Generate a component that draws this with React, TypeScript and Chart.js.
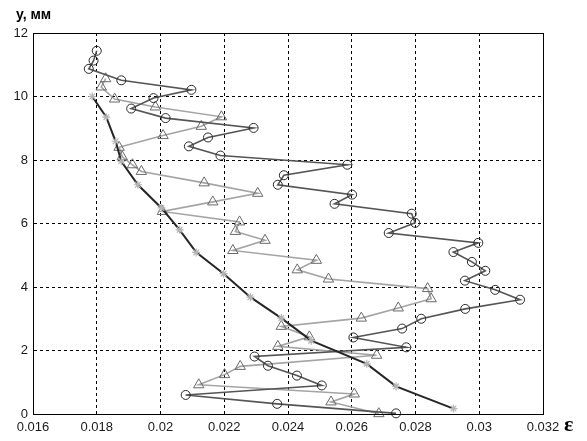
import React, { useEffect, useRef } from "react";
import { Chart, registerables } from "chart.js";

Chart.register(...registerables);

const yTitle = "у, мм";
const xTitle = "ε";

const xTicks = [0.016, 0.018, 0.02, 0.022, 0.024, 0.026, 0.028, 0.03, 0.032];
const xTickLabels = ["0.016", "0.018", "0.02", "0.022", "0.024", "0.026", "0.028", "0.03", "0.032"];
const yTicks = [0, 2, 4, 6, 8, 10, 12];
const yTickLabels = ["0", "2", "4", "6", "8", "10", "12"];

const circleX = [
  0.018, 0.0179, 0.01775, 0.01877, 0.02097, 0.01978, 0.01908, 0.02016, 0.02292, 0.02149,
  0.02089, 0.02188, 0.02586, 0.02387, 0.02368, 0.02601, 0.02546, 0.02788, 0.02799, 0.02716,
  0.02997, 0.02919, 0.02977, 0.03019, 0.02955, 0.0305, 0.03128, 0.02956, 0.02818, 0.02758,
  0.02605, 0.02771, 0.02295, 0.02337, 0.02428, 0.02506, 0.02079, 0.02366, 0.02739,
];
const circleY = [
  11.44, 11.13, 10.87, 10.51, 10.21, 9.95, 9.62, 9.32, 9.01, 8.71,
  8.43, 8.14, 7.85, 7.52, 7.22, 6.91, 6.62, 6.31, 6.02, 5.7,
  5.39, 5.1, 4.79, 4.51, 4.2, 3.91, 3.6, 3.31, 3.0, 2.69,
  2.41, 2.1, 1.81, 1.52, 1.21, 0.9, 0.6, 0.32, 0.02,
];

const triX = [
  0.01828, 0.01814, 0.01856, 0.01984, 0.02191, 0.02128, 0.02008, 0.0187, 0.0188, 0.01912,
  0.0194, 0.02137, 0.02305, 0.02164, 0.02006, 0.02248, 0.02235, 0.02328, 0.02227, 0.02489,
  0.02429, 0.02527, 0.02838, 0.02849, 0.02746, 0.0263, 0.02379, 0.02467, 0.02368, 0.02678,
  0.0225, 0.02201, 0.0212, 0.02608, 0.02535, 0.02685,
];
const triY = [
  10.56, 10.3, 9.92, 9.67, 9.36, 9.06, 8.77, 8.4, 8.1, 7.85,
  7.64, 7.28, 6.95, 6.68, 6.38, 6.05, 5.75, 5.47, 5.15, 4.84,
  4.54, 4.25, 3.95, 3.63, 3.34, 3.02, 2.76, 2.43, 2.13, 1.85,
  1.5, 1.24, 0.92, 0.63, 0.38, 0.01,
];

const starX = [
  0.01786, 0.0183, 0.01859, 0.01877, 0.01929, 0.02003, 0.0206, 0.02112, 0.02198, 0.02282,
  0.02379, 0.02473, 0.02647, 0.02739, 0.02919,
];
const starY = [
  10.0, 9.35, 8.59, 7.96, 7.22, 6.49, 5.8, 5.09, 4.42, 3.68,
  3.02, 2.31, 1.58, 0.87, 0.17,
];

export default function App() {
  const ref = useRef<HTMLCanvasElement>(null);

  useEffect(() => {
    if (!ref.current) return;
    const toPts = (xs: number[], ys: number[]) => xs.map((x, i) => ({ x, y: ys[i] }));

    const framePlugin = {
      id: "frame",
      afterDraw(chart: any) {
        const { ctx, chartArea: a } = chart;
        ctx.save();
        ctx.setLineDash([]);
        ctx.strokeStyle = "#000";
        ctx.lineWidth = 1;
        const l = Math.round(a.left) + 0.5;
        const t = Math.round(a.top) + 0.5;
        const r = Math.round(a.right) + 0.5;
        const b = Math.round(a.bottom) + 0.5;
        ctx.strokeRect(l, t, r - l, b - t);
        ctx.fillStyle = "#000";
        ctx.textAlign = "left";
        ctx.textBaseline = "middle";
        ctx.font = 'bold 14px "Liberation Sans", Arial, sans-serif';
        ctx.fillText(yTitle, 16, 15);
        ctx.font = 'bold 22px "Liberation Serif", "DejaVu Serif", serif';
        ctx.fillText(xTitle, 564, 425);
        ctx.restore();
      },
    };

    const tickFont = { family: '"Liberation Sans", Arial, sans-serif', size: 13 };

    const chart = new Chart(ref.current, {
      type: "scatter",
      data: {
        datasets: [
          {
            label: "stars",
            data: toPts(starX, starY),
            showLine: true,
            borderColor: "#262626",
            borderWidth: 2,
            pointStyle: "star",
            pointRadius: 4,
            pointBorderColor: "#b4b4b4",
            pointBorderWidth: 1.2,
            pointBackgroundColor: "rgba(0,0,0,0)",
            tension: 0,
            clip: false as any,
          },
          {
            label: "circles",
            data: toPts(circleX, circleY),
            showLine: true,
            borderColor: "#555555",
            borderWidth: 1.6,
            pointStyle: "circle",
            pointRadius: 4.5,
            pointBorderColor: "#2a2a2a",
            pointBorderWidth: 1,
            pointBackgroundColor: "rgba(0,0,0,0)",
            tension: 0,
            clip: false as any,
          },
          {
            label: "triangles",
            data: toPts(triX, triY),
            showLine: true,
            borderColor: "#a4a4a4",
            borderWidth: 1.6,
            pointStyle: "triangle",
            pointRadius: 6,
            pointBorderColor: "#6a6a6a",
            pointBorderWidth: 1,
            pointBackgroundColor: "rgba(0,0,0,0)",
            tension: 0,
            clip: false as any,
          },
        ],
      },
      options: {
        animation: false,
        responsive: true,
        maintainAspectRatio: false,
        layout: { padding: { top: 33, right: 44, left: 0, bottom: 0 } },
        plugins: { legend: { display: false }, tooltip: { enabled: false } },
        scales: {
          x: {
            type: "linear",
            min: 0.016,
            max: 0.032,
            afterBuildTicks: (s: any) => {
              s.ticks = xTicks.map((v) => ({ value: v }));
            },
            afterFit: (s: any) => {
              s.height = 27;
            },
            ticks: {
              autoSkip: false,
              maxRotation: 0,
              padding: 6,
              color: "#1a1a1a",
              font: tickFont,
              callback: (_v: any, i: number) => xTickLabels[i],
            },
            grid: { color: "#000", lineWidth: 1, drawTicks: false },
            border: { display: true, color: "#000", width: 1, dash: [3, 3] },
          },
          y: {
            type: "linear",
            min: 0,
            max: 12,
            afterBuildTicks: (s: any) => {
              s.ticks = yTicks.map((v) => ({ value: v }));
            },
            afterFit: (s: any) => {
              s.width = 33;
            },
            ticks: {
              autoSkip: false,
              padding: 5,
              color: "#1a1a1a",
              font: tickFont,
              callback: (_v: any, i: number) => yTickLabels[i],
            },
            grid: { color: "#000", lineWidth: 1, drawTicks: false },
            border: { display: true, color: "#000", width: 1, dash: [3, 3] },
          },
        },
      },
      plugins: [framePlugin],
    });

    return () => chart.destroy();
  }, []);

  return (
    <div style={{ position: "absolute", left: 0, top: 0, width: 587, height: 441, background: "#fff" }}>
      <canvas ref={ref} />
    </div>
  );
}
